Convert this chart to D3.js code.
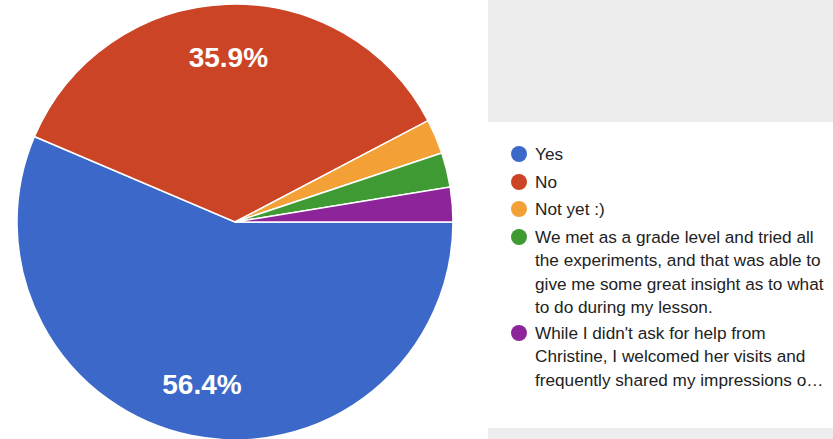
<!DOCTYPE html>
<html>
<head>
<meta charset="utf-8">
<script src="https://cdn.jsdelivr.net/npm/d3@7"></script>
<style>
  html, body { margin: 0; padding: 0; background: #fff; }
  svg { display: block; font-family: "Liberation Sans", Arial, sans-serif; }
</style>
</head>
<body>
<svg id="chart" width="833" height="439"></svg>
<script>
// Survey answers and response counts (39 responses)
const answers = [
  "Yes",
  "No",
  "Not yet :)",
  "We met as a grade level and tried all the experiments, and that was able to give me some great insight as to what to do during my lesson.",
  "While I didn't ask for help from Christine, I welcomed her visits and frequently shared my impressions of the lesson."
];
const counts = [22, 14, 1, 1, 1];
// Legend text as wrapped in the legend box
const legendLines = [
  ["Yes"],
  ["No"],
  ["Not yet :)"],
  ["We met as a grade level and tried all", "the experiments, and that was able to", "give me some great insight as to what", "to do during my lesson."],
  ["While I didn't ask for help from", "Christine, I welcomed her visits and", "frequently shared my impressions o\u2026"]
];
const sliceColors = ["#3c69c9", "#cc4426", "#f3a036", "#3f9a34", "#8e2499"];

const svg = d3.select("#chart");
const W = 833, H = 439;

// grey panels beside the legend
svg.append("rect").attr("x", 488).attr("y", 0).attr("width", W - 488).attr("height", 122).attr("fill", "#ededed");
svg.append("rect").attr("x", 488).attr("y", 428).attr("width", W - 488).attr("height", H - 428).attr("fill", "#ededed");

const cx = 235, cy = 222, R = 218;
const total = d3.sum(counts);
const data = answers.map((a, i) => ({ answer: a, count: counts[i], color: sliceColors[i] }));

const pie = d3.pie()
  .value(d => d.count)
  .sort(null)
  .startAngle(Math.PI / 2)
  .endAngle(Math.PI / 2 + 2 * Math.PI);
const arcs = pie(data);
const arc = d3.arc().innerRadius(0).outerRadius(R);
const labelArc = d3.arc().innerRadius(R * 0.757).outerRadius(R * 0.757);

const g = svg.append("g").attr("transform", `translate(${cx},${cy})`);
g.selectAll("path.slice")
  .data(arcs)
  .join("path")
  .attr("class", "slice")
  .attr("d", arc)
  .attr("fill", d => d.data.color)
  .attr("stroke", "#fff")
  .attr("stroke-width", 1.5);

const fmt = v => (v / total * 100).toFixed(1) + "%";
g.selectAll("text.pct")
  .data(arcs.filter(d => d.data.count / total > 0.05))
  .join("text")
  .attr("class", "pct")
  .attr("transform", d => `translate(${labelArc.centroid(d)})`)
  .attr("text-anchor", "middle")
  .attr("dy", "0.36em")
  .attr("fill", "#fff")
  .attr("font-size", 28)
  .attr("font-weight", "bold")
  .text(d => fmt(d.data.count));

// legend
const rowTops = [154, 182, 209, 237, 333];
const lineH = 23.3;
const legend = svg.append("g");
data.forEach((d, i) => {
  const row = legend.append("g").attr("transform", `translate(0,${rowTops[i]})`);
  row.append("circle").attr("cx", 519).attr("cy", 0).attr("r", 8).attr("fill", d.color);
  row.append("text")
    .attr("x", 535)
    .attr("fill", "#222")
    .attr("font-size", 17.2)
    .selectAll("tspan")
    .data(legendLines[i])
    .join("tspan")
    .attr("x", 535)
    .attr("y", (l, j) => j * lineH)
    .attr("dy", "0.36em")
    .text(l => l);
});
</script>
</body>
</html>
